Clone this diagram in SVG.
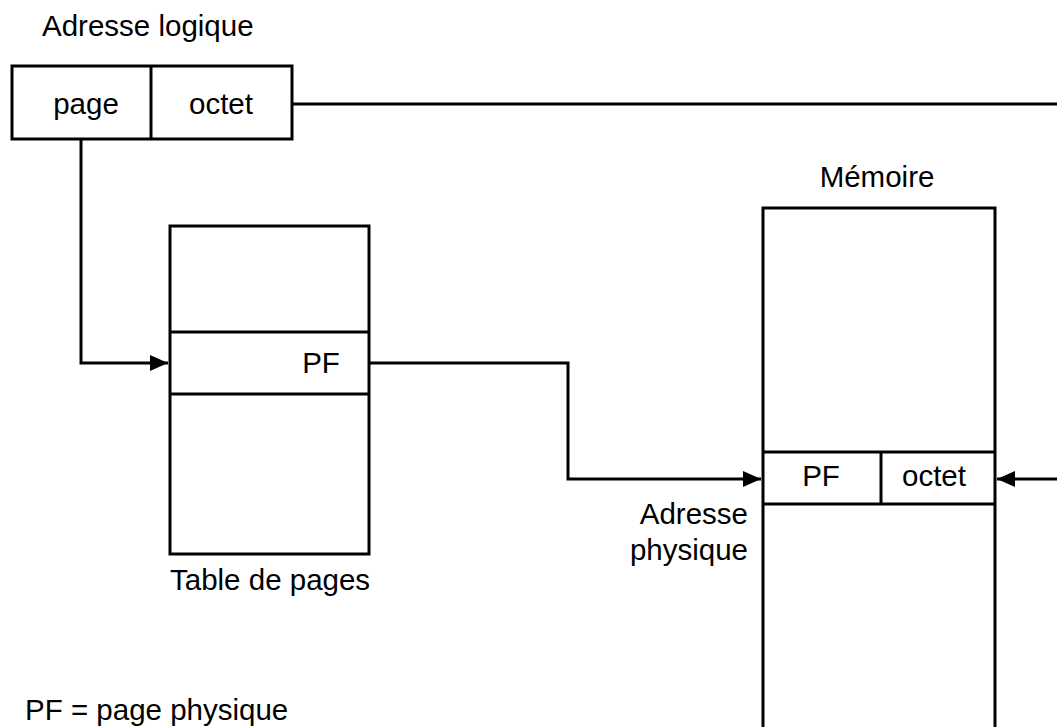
<svg xmlns="http://www.w3.org/2000/svg" width="1057" height="727" viewBox="0 0 1057 727">
<style>
.box{fill:#fff;stroke:#000;stroke-width:3}
.ln{fill:none;stroke:#000;stroke-width:3}
.t{font-family:"Liberation Sans",Arial,sans-serif;font-size:29.5px;fill:#000}
</style>
<defs>
<marker id="ah" markerUnits="userSpaceOnUse" markerWidth="18" markerHeight="16" refX="18" refY="8" orient="auto">
<path d="M0,0 L18,8 L0,16 Z" fill="#000"/>
</marker>
</defs>
<rect width="1057" height="727" fill="#fff"/>
<g id="logical">
<text class="t" x="42" y="36">Adresse logique</text>
<rect class="box" x="12" y="66" width="280" height="73"/>
<line class="ln" x1="151" y1="66" x2="151" y2="139"/>
<text class="t" x="86" y="114" text-anchor="middle">page</text>
<text class="t" x="221" y="114" text-anchor="middle">octet</text>
</g>
<g id="pagetable">
<rect class="box" x="170" y="226" width="199" height="328"/>
<line class="ln" x1="170" y1="332" x2="369" y2="332"/>
<line class="ln" x1="170" y1="394" x2="369" y2="394"/>
<text class="t" x="321" y="373" text-anchor="middle">PF</text>
<text class="t" x="170" y="590">Table de pages</text>
</g>
<g id="memory">
<text class="t" x="877" y="187" text-anchor="middle">Mémoire</text>
<path class="ln" d="M763,730 L763,208 L995,208 L995,730"/>
<line class="ln" x1="763" y1="452" x2="995" y2="452"/>
<line class="ln" x1="763" y1="504" x2="995" y2="504"/>
<line class="ln" x1="881" y1="452" x2="881" y2="504"/>
<text class="t" x="821" y="486" text-anchor="middle">PF</text>
<text class="t" x="934" y="486" text-anchor="middle">octet</text>
<text class="t" x="748" y="524" text-anchor="end">Adresse</text>
<text class="t" x="748" y="560" text-anchor="end">physique</text>
</g>
<g id="legend">
<text class="t" x="25" y="720">PF = page physique</text>
</g>
<g id="connectors">
<line class="ln" x1="292" y1="104" x2="1060" y2="104"/>
<path class="ln" d="M81,139 L81,363 L168,363" marker-end="url(#ah)"/>
<path class="ln" d="M369,363 L568,363 L568,479 L761,479" marker-end="url(#ah)"/>
<path class="ln" d="M1060,479 L997,479" marker-end="url(#ah)"/>
</g>
</svg>
